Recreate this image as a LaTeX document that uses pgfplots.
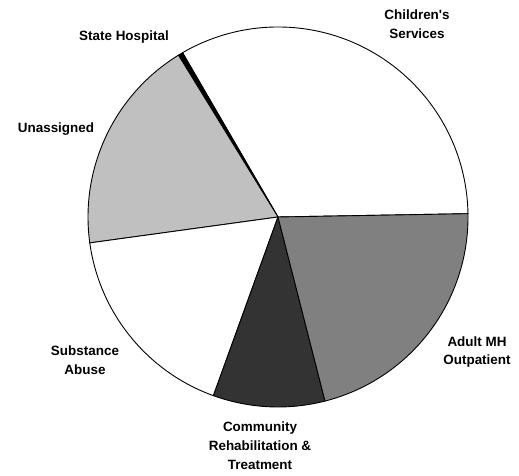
\documentclass[border=0pt]{standalone}
\usepackage{pgfplots}
\pgfplotsset{compat=1.18}
\usepackage{pgfplotstable}
\usepackage{fontspec}
\setmainfont{Liberation Sans}

\definecolor{sliceLight}{HTML}{C0C0C0}
\definecolor{sliceMid}{HTML}{808080}
\definecolor{sliceDark}{HTML}{333333}

\tikzset{lbl/.style={font=\bfseries\fontsize{13.5}{19}\selectfont, align=center, inner sep=0pt}}

% share of each slice in percent, counter-clockwise from the start angle
\pgfplotstableread{
value colour
33.1  white
0.4   black
18.4  sliceLight
17.3  white
9.5   sliceDark
21.3  sliceMid
}\piedata

\def\cx{278}
\def\cy{259}
\def\rad{190}

\begin{document}
\begin{tikzpicture}
\begin{axis}[
    x=1bp, y=1bp,
    xmin=0, xmax=519,
    ymin=0, ymax=476,
    scale only axis,
    hide axis,
    clip=false,
]
\addplot[draw=none] coordinates {(0,0) (519,476)};

\def\startang{1}
\pgfplotsforeachungrouped \i in {0,...,5}{%
    \pgfplotstablegetelem{\i}{value}\of\piedata
    \let\val\pgfplotsretval
    \pgfplotstablegetelem{\i}{colour}\of\piedata
    \let\col\pgfplotsretval
    \pgfmathsetmacro\endang{\startang+3.6*\val}
    \pgfmathsetmacro\px{\cx+\rad*cos(\startang)}
    \pgfmathsetmacro\py{\cy+\rad*sin(\startang)}
    \edef\temp{\noexpand\draw[line width=0.9pt, fill=\col, line join=round]
        (axis cs:\cx,\cy) -- (axis cs:\px,\py)
        arc[start angle=\startang, end angle=\endang, radius=\rad bp] -- cycle;}
    \temp
    \global\let\startang\endang
}

\node[lbl] at (axis cs:417,451.5) {Children\textquotesingle s\\Services};
\node[lbl] at (axis cs:124,439) {State Hospital};
\node[lbl] at (axis cs:56,347) {Unassigned};
\node[lbl] at (axis cs:85,116) {Substance\\Abuse};
\node[lbl] at (axis cs:260,30) {Community\\Rehabilitation \&\\Treatment};
\node[lbl] at (axis cs:477,124) {Adult MH\\Outpatient};
\end{axis}
\end{tikzpicture}
\end{document}
